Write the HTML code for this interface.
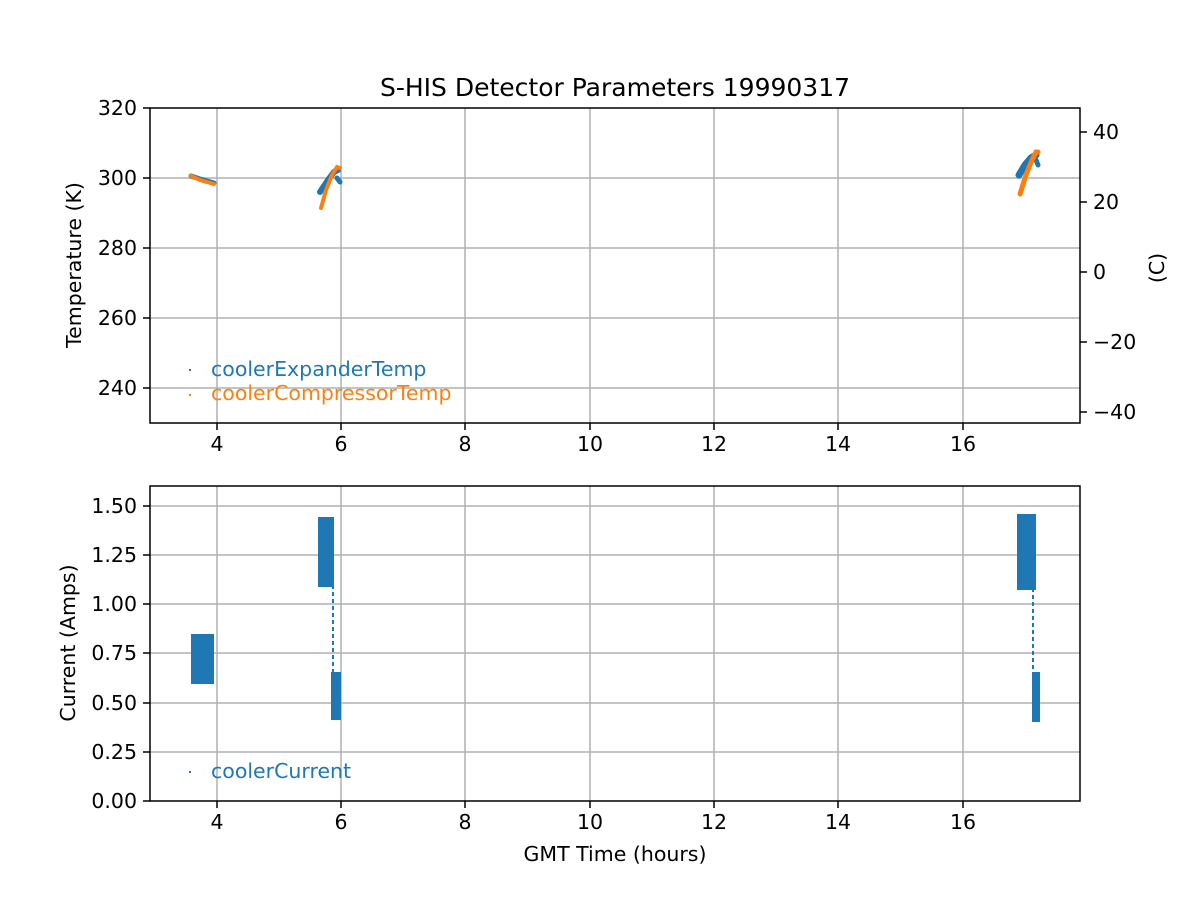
<!DOCTYPE html>
<html><head><meta charset="utf-8"><style>
body{margin:0;background:#fff}
text{font-family:"DejaVu Sans","Liberation Sans",sans-serif;fill:#000}
</style></head><body>
<svg width="1200" height="900" xmlns="http://www.w3.org/2000/svg">
<rect width="1200" height="900" fill="#fff"/>
<text x="615" y="96" font-size="25" text-anchor="middle">S-HIS Detector Parameters 19990317</text>
<g stroke="#b0b0b0" stroke-width="1.5">
<line x1="217" y1="108" x2="217" y2="423"/><line x1="341" y1="108" x2="341" y2="423"/><line x1="465" y1="108" x2="465" y2="423"/><line x1="590" y1="108" x2="590" y2="423"/><line x1="714" y1="108" x2="714" y2="423"/><line x1="838" y1="108" x2="838" y2="423"/><line x1="963" y1="108" x2="963" y2="423"/>
<line x1="150" y1="178" x2="1080" y2="178"/><line x1="150" y1="248" x2="1080" y2="248"/><line x1="150" y1="318" x2="1080" y2="318"/><line x1="150" y1="388" x2="1080" y2="388"/>
<line x1="217" y1="486" x2="217" y2="801"/><line x1="341" y1="486" x2="341" y2="801"/><line x1="465" y1="486" x2="465" y2="801"/><line x1="590" y1="486" x2="590" y2="801"/><line x1="714" y1="486" x2="714" y2="801"/><line x1="838" y1="486" x2="838" y2="801"/><line x1="963" y1="486" x2="963" y2="801"/>
<line x1="150" y1="506" x2="1080" y2="506"/><line x1="150" y1="555" x2="1080" y2="555"/><line x1="150" y1="604" x2="1080" y2="604"/><line x1="150" y1="653" x2="1080" y2="653"/><line x1="150" y1="703" x2="1080" y2="703"/><line x1="150" y1="752" x2="1080" y2="752"/>
</g>
<g fill="none" stroke-linecap="round">
<polyline points="191,176 200,179 214,183" stroke="#1f77b4" stroke-width="5"/>
<polyline points="191,176 200,180 214,184" stroke="#ff7f0e" stroke-width="4"/>
<polyline points="320,192 328,180 334,172 338,170" stroke="#1f77b4" stroke-width="6"/>
<polyline points="337,178 340,182" stroke="#1f77b4" stroke-width="5"/>
<polyline points="321,208 326,190 332,175 337,167 340,168" stroke="#ff7f0e" stroke-width="4"/>
<polyline points="1019,175 1025,165 1031,158 1036,155" stroke="#1f77b4" stroke-width="7"/>
<polyline points="1036,160 1038,165" stroke="#1f77b4" stroke-width="5"/>
<polyline points="1020,194 1026,175 1032,160 1036,152 1038,152" stroke="#ff7f0e" stroke-width="5"/>
</g>
<g fill="#1f77b4">
<rect x="191" y="634" width="23" height="50"/>
<rect x="318" y="517" width="16" height="70"/>
<rect x="331" y="672" width="10" height="48"/>
<rect x="1017" y="514" width="19" height="76"/>
<rect x="1032" y="672" width="8" height="50"/>
</g>
<g stroke="#1f77b4" stroke-width="2" stroke-dasharray="4,3">
<line x1="333" y1="585" x2="333" y2="675"/><line x1="1033" y1="588" x2="1033" y2="675"/>
</g>
<g fill="none" stroke="#000" stroke-width="1.5">
<rect x="150" y="108" width="930" height="315"/>
<rect x="150" y="486" width="930" height="315"/>
</g>
<g stroke="#000" stroke-width="1.5">
<line x1="143" y1="108" x2="150" y2="108"/><line x1="143" y1="178" x2="150" y2="178"/><line x1="143" y1="248" x2="150" y2="248"/><line x1="143" y1="318" x2="150" y2="318"/><line x1="143" y1="388" x2="150" y2="388"/>
<line x1="1080" y1="132" x2="1087" y2="132"/><line x1="1080" y1="202" x2="1087" y2="202"/><line x1="1080" y1="272" x2="1087" y2="272"/><line x1="1080" y1="342" x2="1087" y2="342"/><line x1="1080" y1="412" x2="1087" y2="412"/>
<line x1="143" y1="506" x2="150" y2="506"/><line x1="143" y1="555" x2="150" y2="555"/><line x1="143" y1="604" x2="150" y2="604"/><line x1="143" y1="653" x2="150" y2="653"/><line x1="143" y1="703" x2="150" y2="703"/><line x1="143" y1="752" x2="150" y2="752"/><line x1="143" y1="801" x2="150" y2="801"/>
<line x1="217" y1="423" x2="217" y2="430"/><line x1="341" y1="423" x2="341" y2="430"/><line x1="465" y1="423" x2="465" y2="430"/><line x1="590" y1="423" x2="590" y2="430"/><line x1="714" y1="423" x2="714" y2="430"/><line x1="838" y1="423" x2="838" y2="430"/><line x1="963" y1="423" x2="963" y2="430"/>
<line x1="217" y1="801" x2="217" y2="808"/><line x1="341" y1="801" x2="341" y2="808"/><line x1="465" y1="801" x2="465" y2="808"/><line x1="590" y1="801" x2="590" y2="808"/><line x1="714" y1="801" x2="714" y2="808"/><line x1="838" y1="801" x2="838" y2="808"/><line x1="963" y1="801" x2="963" y2="808"/>
</g>
<g font-size="20.5">
<g text-anchor="end">
<text x="137" y="115">320</text><text x="137" y="185">300</text><text x="137" y="255">280</text><text x="137" y="325">260</text><text x="137" y="395">240</text>
<text x="137" y="513">1.50</text><text x="137" y="562">1.25</text><text x="137" y="611">1.00</text><text x="137" y="660">0.75</text><text x="137" y="710">0.50</text><text x="137" y="759">0.25</text><text x="137" y="808">0.00</text>
</g>
<text x="1093" y="139">40</text><text x="1093" y="209">20</text><text x="1093" y="279">0</text><text x="1093" y="349">−20</text><text x="1093" y="419">−40</text>
<g text-anchor="middle">
<text x="217" y="451">4</text><text x="341" y="451">6</text><text x="465" y="451">8</text><text x="590" y="451">10</text><text x="714" y="451">12</text><text x="838" y="451">14</text><text x="963" y="451">16</text>
<text x="217" y="829">4</text><text x="341" y="829">6</text><text x="465" y="829">8</text><text x="590" y="829">10</text><text x="714" y="829">12</text><text x="838" y="829">14</text><text x="963" y="829">16</text>
<text x="615" y="861">GMT Time (hours)</text>
</g>
<text transform="translate(81,265) rotate(-90)" text-anchor="middle">Temperature (K)</text>
<text transform="translate(1164,268) rotate(-90)" text-anchor="middle">(C)</text>
<text transform="translate(75,643) rotate(-90)" text-anchor="middle">Current (Amps)</text>
<text x="211" y="376" style="fill:#1f77b4">coolerExpanderTemp</text>
<text x="211" y="400" style="fill:#ff7f0e">coolerCompressorTemp</text>
<text x="211" y="778" style="fill:#1f77b4">coolerCurrent</text>
</g>
<rect x="189" y="369" width="2" height="2" fill="#1f77b4"/>
<rect x="189" y="394" width="2" height="2" fill="#ff7f0e"/>
<rect x="189" y="771" width="2" height="2" fill="#1f77b4"/>
</svg>
</body></html>
